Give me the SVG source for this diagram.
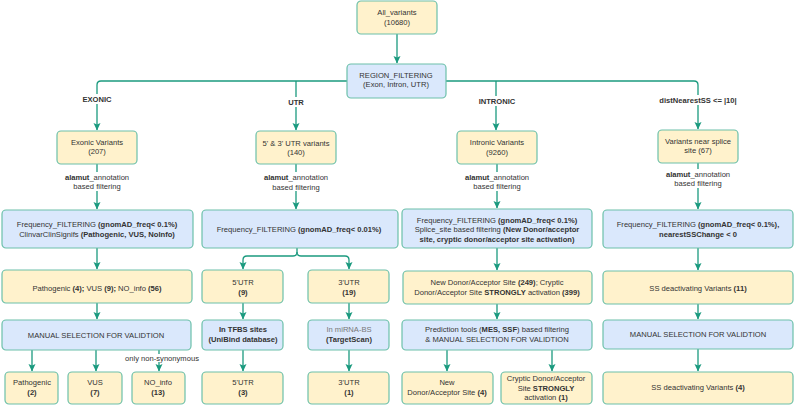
<svg xmlns="http://www.w3.org/2000/svg" width="794" height="405" viewBox="0 0 794 405">
<defs>
<marker id="ah" markerWidth="8" markerHeight="8" refX="7" refY="4" orient="auto" markerUnits="userSpaceOnUse"><path d="M0,0.5 L7.5,4 L0,7.5 L1.5,4 Z" fill="#1b9a7f"/></marker>
<style>
.y{fill:#fff2cc;stroke:#6cc0aa;stroke-width:1.2}
.b{fill:#dae8fc;stroke:#6cc0aa;stroke-width:1.2}
text{font-family:"Liberation Sans",Arial,sans-serif;font-size:7.6px;fill:#333;text-anchor:middle;dominant-baseline:central}
.bd{font-weight:bold}
.e{fill:none;stroke:#1b9a7f;stroke-width:1.3}
.a{marker-end:url(#ah)}
.lb{fill:#fff}
</style>
</defs>
<g id="connectors">
<path class="e a" d="M397,34 V63"/>
<path class="e a" d="M347,81 H101 Q97,81 97,85 V130"/>
<path class="e a" d="M446,81 H694 Q698,81 698,85 V129"/>
<path class="e a" d="M296,81 V130"/>
<path class="e a" d="M496,81 V130"/>
<path class="e a" d="M97,164 V209"/>
<path class="e a" d="M296,164 V209"/>
<path class="e a" d="M497,164 V208"/>
<path class="e a" d="M698,163 V209"/>
<path class="e a" d="M97,248 V269"/>
<path class="e a" d="M297,248 V252 Q297,256 293,256 H247 Q243,256 243,260 V269"/>
<path class="e a" d="M297,252 Q297,256 301,256 H345 Q349,256 349,260 V269"/>
<path class="e a" d="M497,248 V270"/>
<path class="e a" d="M698,248 V270"/>
<path class="e a" d="M97,303 V319"/>
<path class="e a" d="M243,303 V319"/>
<path class="e a" d="M349,303 V319"/>
<path class="e a" d="M497,304 V319"/>
<path class="e a" d="M698,304 V319"/>
<path class="e a" d="M32,350 V371"/>
<path class="e a" d="M96,350 V371"/>
<path class="e a" d="M159,350 V371"/>
<path class="e a" d="M243,350 V371"/>
<path class="e a" d="M349,350 V371"/>
<path class="e a" d="M447,350 V371"/>
<path class="e a" d="M552,350 V371"/>
<path class="e a" d="M698,349 V371"/>
<rect class="lb" x="80" y="94" width="34" height="10"/>
<text class="bd" x="97" y="99">EXONIC</text>
<rect class="lb" x="286" y="97" width="20" height="10"/>
<text class="bd" x="296" y="102">UTR</text>
<rect class="lb" x="478" y="96" width="38" height="10"/>
<text class="bd" x="497" y="101">INTRONIC</text>
<rect class="lb" x="656" y="95" width="84" height="10"/>
<text class="bd" x="698" y="100">distNearestSS &lt;= |10|</text>
<rect class="lb" x="60" y="172" width="74" height="19"/>
<text x="97" y="177"><tspan class="bd">alamut</tspan>_annotation</text>
<text x="97" y="186">based filtering</text>
<rect class="lb" x="259" y="172" width="74" height="19"/>
<text x="296" y="177"><tspan class="bd">alamut</tspan>_annotation</text>
<text x="296" y="187">based filtering</text>
<rect class="lb" x="460" y="172" width="74" height="19"/>
<text x="497" y="177"><tspan class="bd">alamut</tspan>_annotation</text>
<text x="497" y="186">based filtering</text>
<rect class="lb" x="661" y="169" width="74" height="19"/>
<text x="698" y="174"><tspan class="bd">alamut</tspan>_annotation</text>
<text x="698" y="183">based filtering</text>
<rect class="lb" x="124" y="354" width="77" height="8"/>
<text x="162" y="358">only non-synonymous</text>
</g>
<g id="all_variants"><rect class="y" x="357" y="1" width="80" height="33" rx="4"/><text x="397" y="12">All_variants</text><text x="397" y="22">(10680)</text></g>
<g id="region_filtering"><rect class="b" x="347" y="64" width="99" height="34" rx="4"/><text x="396" y="75">REGION_FILTERING</text><text x="396" y="84">(Exon, Intron, UTR)</text></g>
<g id="exonic_variants"><rect class="y" x="57" y="131" width="80" height="33" rx="4"/><text x="97" y="142">Exonic Variants</text><text x="97" y="151">(207)</text></g>
<g id="utr_variants"><rect class="y" x="256" y="131" width="80" height="33" rx="4"/><text x="296" y="143">5' &amp; 3' UTR variants</text><text x="296" y="152">(140)</text></g>
<g id="intronic_variants"><rect class="y" x="457" y="131" width="80" height="33" rx="4"/><text x="497" y="142">Intronic Variants</text><text x="497" y="152">(9260)</text></g>
<g id="splice_variants"><rect class="y" x="658" y="130" width="80" height="33" rx="4"/><text x="698" y="141">Variants near splice</text><text x="698" y="150">site (67)</text></g>
<g id="exonic_freq"><rect class="b" x="2" y="210" width="191" height="38" rx="4"/><text x="97" y="224">Frequency_FILTERING <tspan class="bd">(gnomAD_freq&lt; 0.1%)</tspan></text><text x="97" y="234">ClinvarClinSignifs <tspan class="bd">(Pathogenic, VUS, NoInfo)</tspan></text></g>
<g id="utr_freq"><rect class="b" x="202" y="210" width="196" height="38" rx="4"/><text x="299" y="229">Frequency_FILTERING <tspan class="bd">(gnomAD_freq&lt; 0.01%)</tspan></text></g>
<g id="intronic_freq"><rect class="b" x="402" y="209" width="190" height="39" rx="4"/><text x="497" y="220">Frequency_FILTERING <tspan class="bd">(gnomAD_freq&lt; 0.1%)</tspan></text><text x="497" y="229">Splice_site based filtering <tspan class="bd">(New Donor/acceptor</tspan></text><text x="497" y="239" class="bd">site, cryptic donor/acceptor site activation)</text></g>
<g id="splice_freq"><rect class="b" x="603" y="210" width="190" height="38" rx="4"/><text x="698" y="224">Frequency_FILTERING <tspan class="bd">(gnomAD_freq&lt; 0.1%),</tspan></text><text x="698" y="234" class="bd">nearestSSChange &lt; 0</text></g>
<g id="exonic_counts"><rect class="y" x="2" y="270" width="190" height="33" rx="4"/><text x="97" y="288">Pathogenic <tspan class="bd">(4);</tspan> VUS <tspan class="bd">(9);</tspan> NO_info <tspan class="bd">(56)</tspan></text></g>
<g id="utr5_counts"><rect class="y" x="202" y="270" width="81" height="33" rx="4"/><text x="243" y="282">5'UTR</text><text x="243" y="292" class="bd">(9)</text></g>
<g id="utr3_counts"><rect class="y" x="308" y="270" width="81" height="33" rx="4"/><text x="349" y="282">3'UTR</text><text x="349" y="292" class="bd">(19)</text></g>
<g id="intronic_counts"><rect class="y" x="403" y="271" width="189" height="33" rx="4"/><text x="497" y="282">New Donor/Acceptor Site <tspan class="bd">(249)</tspan>; Cryptic</text><text x="497" y="292">Donor/Acceptor Site <tspan class="bd">STRONGLY</tspan> activation <tspan class="bd">(399)</tspan></text></g>
<g id="splice_counts"><rect class="y" x="603" y="271" width="190" height="33" rx="4"/><text x="698" y="288">SS deactivating Variants <tspan class="bd">(11)</tspan></text></g>
<g id="exonic_manual"><rect class="b" x="2" y="320" width="189" height="30" rx="4"/><text x="96" y="335">MANUAL SELECTION FOR VALIDTION</text></g>
<g id="tfbs"><rect class="b" x="202" y="320" width="81" height="30" rx="4"/><text x="243" y="329" class="bd">In TFBS sites</text><text x="243" y="339" class="bd">(UniBind database)</text></g>
<g id="mirna"><rect class="b" x="308" y="320" width="81" height="30" rx="4"/><text x="349" y="329" style="fill:#777">In miRNA-BS</text><text x="349" y="339" class="bd">(TargetScan)</text></g>
<g id="prediction"><rect class="b" x="402" y="320" width="190" height="30" rx="4"/><text x="497" y="329">Prediction tools (<tspan class="bd">MES, SSF</tspan>) based filtering</text><text x="497" y="339">&amp; MANUAL SELECTION FOR VALIDTION</text></g>
<g id="splice_manual"><rect class="b" x="603" y="320" width="190" height="29" rx="4"/><text x="698" y="334">MANUAL SELECTION FOR VALIDTION</text></g>
<g id="pathogenic"><rect class="y" x="5" y="372" width="53" height="32" rx="4"/><text x="32" y="382">Pathogenic</text><text x="32" y="392" class="bd">(2)</text></g>
<g id="vus"><rect class="y" x="68" y="372" width="54" height="32" rx="4"/><text x="95" y="382">VUS</text><text x="95" y="392" class="bd">(7)</text></g>
<g id="no_info"><rect class="y" x="132" y="372" width="53" height="32" rx="4"/><text x="158" y="382">NO_info</text><text x="158" y="392" class="bd">(13)</text></g>
<g id="utr5_final"><rect class="y" x="202" y="372" width="81" height="32" rx="4"/><text x="243" y="382">5'UTR</text><text x="243" y="392" class="bd">(3)</text></g>
<g id="utr3_final"><rect class="y" x="308" y="372" width="81" height="32" rx="4"/><text x="349" y="382">3'UTR</text><text x="349" y="392" class="bd">(1)</text></g>
<g id="new_donor"><rect class="y" x="402" y="372" width="91" height="32" rx="4"/><text x="447" y="382">New</text><text x="447" y="392">Donor/Acceptor Site <tspan class="bd">(4)</tspan></text></g>
<g id="cryptic"><rect class="y" x="501" y="372" width="91" height="32" rx="4"/><text x="546" y="378">Cryptic Donor/Acceptor</text><text x="546" y="388">Site <tspan class="bd">STRONGLY</tspan></text><text x="546" y="397">activation <tspan class="bd">(1)</tspan></text></g>
<g id="ss_final"><rect class="y" x="603" y="372" width="190" height="32" rx="4"/><text x="698" y="387">SS deactivating Variants <tspan class="bd">(4)</tspan></text></g>
</svg>
